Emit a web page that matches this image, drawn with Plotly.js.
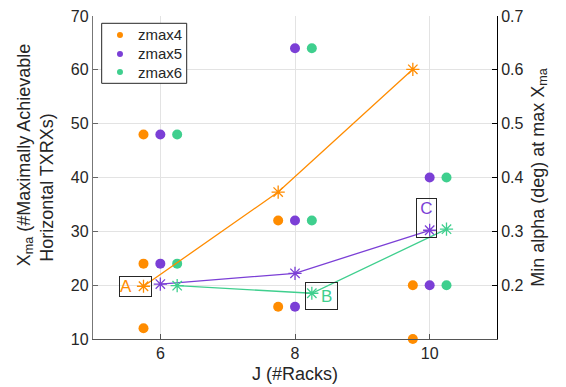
<!DOCTYPE html>
<html>
<head>
<meta charset="utf-8">
<script src="https://cdn.plot.ly/plotly-3.0.1.min.js"></script>
<style>html,body{margin:0;padding:0;background:#fff;}#chart{width:566px;height:387px;}</style>
</head>
<body>
<div id="chart"></div>
<script>
// Categories
const racks = [6, 8, 10];
const seriesNames = ['zmax4', 'zmax5', 'zmax6'];
// Achievable X_ma values (dots, left axis) per rack count
const zmax4Xma = [[48, 24, 12], [32, 16], [20, 10]];
const zmax5Xma = [[48, 24], [64, 32, 16], [40, 20]];
const zmax6Xma = [[48, 24], [64, 32], [40, 20]];
// Min alpha (deg) at max X_ma (stars, right axis)
const zmax4Alpha = [0.198, 0.373, 0.601];
const zmax5Alpha = [0.202, 0.222, 0.302];
const zmax6Alpha = [0.199, 0.185, 0.304];
// Tick labels
const leftTicks = [10, 20, 30, 40, 50, 60, 70];
const rightTicks = [0.2, 0.3, 0.4, 0.5, 0.6, 0.7];
const xTicks = [6, 8, 10];

const colors = ['#FF8C00', '#7B3FD6', '#3FCF8E'];
const offsets = [-0.25, 0, 0.25];
const FONT = '"Liberation Sans", Arial, Helvetica, sans-serif';
const TXT = '#262626';

const xmaSets = [zmax4Xma, zmax5Xma, zmax6Xma];
const alphaSets = [zmax4Alpha, zmax5Alpha, zmax6Alpha];

const traces = [];
alphaSets.forEach((a, i) => {
  traces.push({
    x: racks.map(r => r + offsets[i]), y: a, yaxis: 'y2', type: 'scatter',
    mode: 'lines+markers', showlegend: false, cliponaxis: false, name: seriesNames[i] + ' alpha',
    line: {color: colors[i], width: 1.3},
    marker: {symbol: 'asterisk-open', size: 11, color: colors[i], line: {color: colors[i], width: 1.3}}
  });
});
xmaSets.forEach((set, i) => {
  const xs = [], ys = [];
  set.forEach((vals, k) => vals.forEach(v => { xs.push(racks[k] + offsets[i]); ys.push(v); }));
  traces.push({
    x: xs, y: ys, type: 'scatter', mode: 'markers', showlegend: false, cliponaxis: false, name: seriesNames[i],
    marker: {size: 10, color: colors[i]}
  });
});

// Legend box (shapes + annotations to match the compact original legend)
const legX0 = 0.0215, legX1 = 0.2319, legY0 = 0.7916, legY1 = 0.9774;
const legRowY = [0.9412, 0.8824, 0.8266];
const shapes = [{type: 'rect', xref: 'paper', yref: 'paper', x0: legX0, x1: legX1, y0: legY0, y1: legY1,
  line: {color: TXT, width: 1}, fillcolor: '#fff', layer: 'above'}];
const annotations = [];
seriesNames.forEach((n, i) => {
  shapes.push({type: 'circle', xref: 'paper', yref: 'paper', xsizemode: 'pixel', ysizemode: 'pixel',
    xanchor: 0.0668, yanchor: legRowY[i], x0: -3, x1: 3, y0: -3, y1: 3,
    fillcolor: colors[i], line: {width: 0}, layer: 'above'});
  annotations.push({text: n, xref: 'paper', yref: 'paper', x: 0.1075, y: legRowY[i], xanchor: 'left', yanchor: 'middle',
    showarrow: false, font: {family: FONT, size: 15, color: TXT}});
});

const annBase = {showarrow: false, xref: 'x', yref: 'y2', bordercolor: TXT, borderwidth: 1, borderpad: 0,
  bgcolor: 'rgba(0,0,0,0)'};
annotations.push(
  Object.assign({}, annBase, {text: 'A', x: 5.632, y: 0.1972, width: 31, height: 19, align: 'left', valign: 'bottom',
    font: {family: FONT, size: 17, color: colors[0]}}),
  Object.assign({}, annBase, {text: 'B&nbsp;', x: 8.398, y: 0.1796, width: 31, height: 26, align: 'right', valign: 'middle',
    font: {family: FONT, size: 17, color: colors[2]}}),
  Object.assign({}, annBase, {text: 'C', x: 9.959, y: 0.324, width: 19, height: 38, align: 'center', valign: 'top',
    font: {family: FONT, size: 17, color: colors[1]}})
);

const pad = n => '&nbsp;'.repeat(n);

const layout = {
  width: 566, height: 387,
  margin: {l: 93, r: 69, t: 16, b: 48},
  paper_bgcolor: '#fff', plot_bgcolor: '#fff',
  font: {family: FONT, size: 16, color: TXT},
  showlegend: false,
  xaxis: {range: [5, 11], tickvals: xTicks, ticktext: xTicks.map(String), ticks: 'inside', ticklen: 5,
    tickcolor: '#555', showline: true, linecolor: '#555', linewidth: 1, mirror: false,
    showgrid: true, gridcolor: '#e3e3e3', zeroline: false,
    title: {text: 'J (#Racks)', font: {family: FONT, size: 18, color: TXT}, standoff: 6}},
  yaxis: {range: [10, 70], tickvals: leftTicks, ticks: 'inside', ticklen: 5, tickcolor: '#666',
    showline: true, linecolor: '#777', linewidth: 1.2, showgrid: true, gridcolor: '#e3e3e3', zeroline: false,
    title: {text: pad(9) + 'X<sub>ma</sub> (#Maximally Achievable<br>Horizontal TXRXs)' + pad(4),
      font: {family: FONT, size: 18, color: TXT}, standoff: 12}},
  yaxis2: {range: [0.1, 0.7], tickvals: rightTicks, ticktext: rightTicks.map(v => v.toFixed(1)), overlaying: 'y', side: 'right',
    ticks: 'inside', ticklen: 5, tickcolor: '#000', showline: true, linecolor: '#000', linewidth: 1,
    showgrid: false, zeroline: false,
    title: {text: 'Min alpha (deg) at max X<sub>ma</sub>', font: {family: FONT, size: 18, color: TXT}, standoff: 8}},
  shapes: shapes,
  annotations: annotations
};

Plotly.newPlot('chart', traces, layout, {staticPlot: true, displayModeBar: false});
</script>
</body>
</html>
